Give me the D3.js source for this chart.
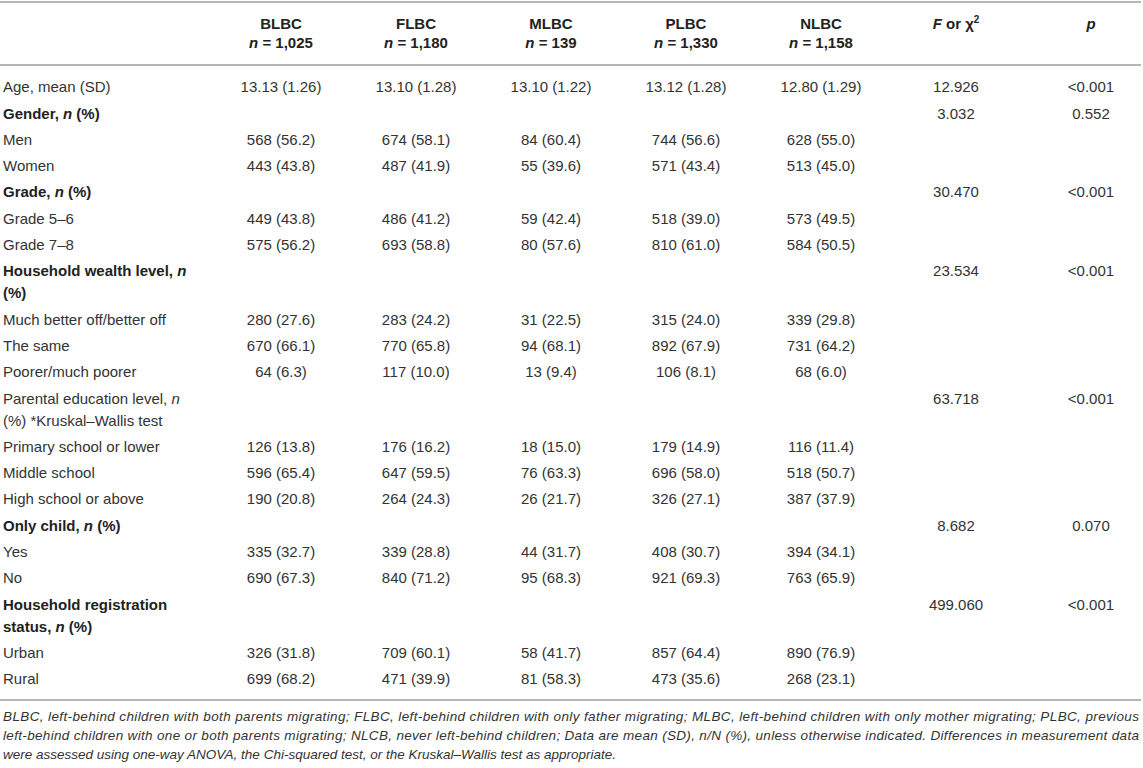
<!DOCTYPE html>
<html>
<head>
<meta charset="utf-8">
<script src="https://cdn.jsdelivr.net/npm/d3@7"></script>
<style>
  body { margin: 0; background: #fff; }
  svg { display: block; font-family: "Liberation Sans", Arial, sans-serif; }
</style>
</head>
<body>
<script>
    // Table values
    var groups = ["BLBC", "FLBC", "MLBC", "PLBC", "NLBC"];
    var groupN = ["1,025", "1,180", "139", "1,330", "1,158"];

    // "_x_" = italic, "|" = line break
    var rowLabels = [
        "Age, mean (SD)",
        "Gender, _n_ (%)",
        "Men",
        "Women",
        "Grade, _n_ (%)",
        "Grade 5\u20136",
        "Grade 7\u20138",
        "Household wealth level, _n_|(%)",
        "Much better off/better off",
        "The same",
        "Poorer/much poorer",
        "Parental education level, _n_|(%) *Kruskal\u2013Wallis test",
        "Primary school or lower",
        "Middle school",
        "High school or above",
        "Only child, _n_ (%)",
        "Yes",
        "No",
        "Household registration|status, _n_ (%)",
        "Urban",
        "Rural"
    ];
    var boldRows = [1, 4, 7, 15, 18];

    var blbc = ["13.13 (1.26)", "", "568 (56.2)", "443 (43.8)", "", "449 (43.8)", "575 (56.2)", "", "280 (27.6)", "670 (66.1)", "64 (6.3)", "", "126 (13.8)", "596 (65.4)", "190 (20.8)", "", "335 (32.7)", "690 (67.3)", "", "326 (31.8)", "699 (68.2)"];
    var flbc = ["13.10 (1.28)", "", "674 (58.1)", "487 (41.9)", "", "486 (41.2)", "693 (58.8)", "", "283 (24.2)", "770 (65.8)", "117 (10.0)", "", "176 (16.2)", "647 (59.5)", "264 (24.3)", "", "339 (28.8)", "840 (71.2)", "", "709 (60.1)", "471 (39.9)"];
    var mlbc = ["13.10 (1.22)", "", "84 (60.4)", "55 (39.6)", "", "59 (42.4)", "80 (57.6)", "", "31 (22.5)", "94 (68.1)", "13 (9.4)", "", "18 (15.0)", "76 (63.3)", "26 (21.7)", "", "44 (31.7)", "95 (68.3)", "", "58 (41.7)", "81 (58.3)"];
    var plbc = ["13.12 (1.28)", "", "744 (56.6)", "571 (43.4)", "", "518 (39.0)", "810 (61.0)", "", "315 (24.0)", "892 (67.9)", "106 (8.1)", "", "179 (14.9)", "696 (58.0)", "326 (27.1)", "", "408 (30.7)", "921 (69.3)", "", "857 (64.4)", "473 (35.6)"];
    var nlbc = ["12.80 (1.29)", "", "628 (55.0)", "513 (45.0)", "", "573 (49.5)", "584 (50.5)", "", "339 (29.8)", "731 (64.2)", "68 (6.0)", "", "116 (11.4)", "518 (50.7)", "387 (37.9)", "", "394 (34.1)", "763 (65.9)", "", "890 (76.9)", "268 (23.1)"];
    var fStat = ["12.926", "3.032", "", "", "30.470", "", "", "23.534", "", "", "", "63.718", "", "", "", "8.682", "", "", "499.060", "", ""];
    var pValue = ["<0.001", "0.552", "", "", "<0.001", "", "", "<0.001", "", "", "", "<0.001", "", "", "", "0.070", "", "", "<0.001", "", ""];

    var footLines = [
        "BLBC, left-behind children with both parents migrating; FLBC, left-behind children with only father migrating; MLBC, left-behind children with only mother migrating; PLBC, previous",
        "left-behind children with one or both parents migrating; NLCB, never left-behind children; Data are mean (SD), n/N (%), unless otherwise indicated. Differences in measurement data",
        "were assessed using one-way ANOVA, the Chi-squared test, or the Kruskal\u2013Wallis test as appropriate."
    ];

    var width = 1143, height = 768;
    var textColor = "#333", ruleColor = "#b5b5b5";
    var fontSize = 15;

    var svg = d3.select("body").append("svg")
        .attr("width", width)
        .attr("height", height);

    // Columns
    var colKeys = groups.concat(["F", "p"]);
    var xCol = d3.scalePoint().domain(colKeys).range([281, 1091]);
    var labelX = 3;

    // Rows: height depends on number of label lines
    var rowStep = 26.3, lineStep = 22;
    var rowHeights = rowLabels.map(function (l) { return rowStep + (l.split("|").length - 1) * lineStep; });
    var rowEnds = d3.cumsum(rowHeights);
    var firstRow = 87;
    var yRow = function (i) { return firstRow + rowEnds[i] - rowHeights[i]; };

    // write a string with _italic_ parts into a text element
    function rich(sel, str) {
        str.split(/(_[^_]+_)/).forEach(function (part) {
            if (!part) return;
            if (part[0] === "_" && part[part.length - 1] === "_") {
                sel.append("tspan").attr("font-style", "italic").text(part.slice(1, -1));
            } else {
                sel.append("tspan").text(part);
            }
        });
    }

    // Rules
    [2, 65, 700].forEach(function (y) {
        svg.append("line")
            .attr("x1", 0).attr("x2", 1141)
            .attr("y1", y).attr("y2", y)
            .attr("stroke", ruleColor)
            .attr("stroke-width", 2);
    });

    // Header
    var head = svg.append("g")
        .attr("font-size", fontSize)
        .attr("font-weight", "bold")
        .attr("fill", "#222")
        .attr("text-anchor", "middle");

    head.selectAll("text.grp")
        .data(groups)
        .enter().append("text")
        .attr("class", "grp")
        .attr("x", function (d) { return xCol(d); })
        .attr("y", 24)
        .attr("dy", "0.35em")
        .text(function (d) { return d; });

    head.selectAll("text.n")
        .data(groupN)
        .enter().append("text")
        .attr("class", "n")
        .attr("x", function (d, i) { return xCol(groups[i]); })
        .attr("y", 43)
        .attr("dy", "0.35em")
        .each(function (d) { rich(d3.select(this), "_n_ = " + d); });

    var fHead = head.append("text")
        .attr("x", xCol("F"))
        .attr("y", 24)
        .attr("dy", "0.35em");
    fHead.append("tspan").attr("font-style", "italic").text("F");
    fHead.append("tspan").text(" or \u03c7");
    fHead.append("tspan").attr("font-size", 10).attr("dy", -6).text("2");

    head.append("text")
        .attr("x", xCol("p"))
        .attr("y", 24)
        .attr("dy", "0.35em")
        .attr("font-style", "italic")
        .text("p");

    // Body
    var body = svg.append("g")
        .attr("font-size", fontSize)
        .attr("fill", textColor);

    var rows = body.selectAll("g.row")
        .data(rowLabels)
        .enter().append("g")
        .attr("class", "row")
        .attr("transform", function (d, i) { return "translate(0," + yRow(i) + ")"; });

    rows.each(function (label, i) {
        var g = d3.select(this);
        label.split("|").forEach(function (line, k) {
            var t = g.append("text")
                .attr("x", labelX)
                .attr("y", k * lineStep)
                .attr("dy", "0.35em")
                .attr("font-weight", boldRows.indexOf(i) >= 0 ? "bold" : null)
                .attr("fill", boldRows.indexOf(i) >= 0 ? "#222" : null);
            rich(t, line);
        });
    });

    var columns = [blbc, flbc, mlbc, plbc, nlbc, fStat, pValue];
    columns.forEach(function (vals, c) {
        rows.append("text")
            .attr("x", xCol(colKeys[c]))
            .attr("dy", "0.35em")
            .attr("text-anchor", "middle")
            .text(function (d, i) { return vals[i]; });
    });

    // Footnote, justified
    var foot = svg.append("g")
        .attr("font-size", 13.5)
        .attr("font-style", "italic")
        .attr("fill", textColor);

    foot.selectAll("text")
        .data(footLines)
        .enter().append("text")
        .attr("x", labelX)
        .attr("y", function (d, i) { return 716 + i * 19; })
        .attr("dy", "0.35em")
        .attr("textLength", function (d, i) { return i < footLines.length - 1 ? 1136 : null; })
        .attr("lengthAdjust", "spacing")
        .text(function (d) { return d; });
</script>
</body>
</html>
